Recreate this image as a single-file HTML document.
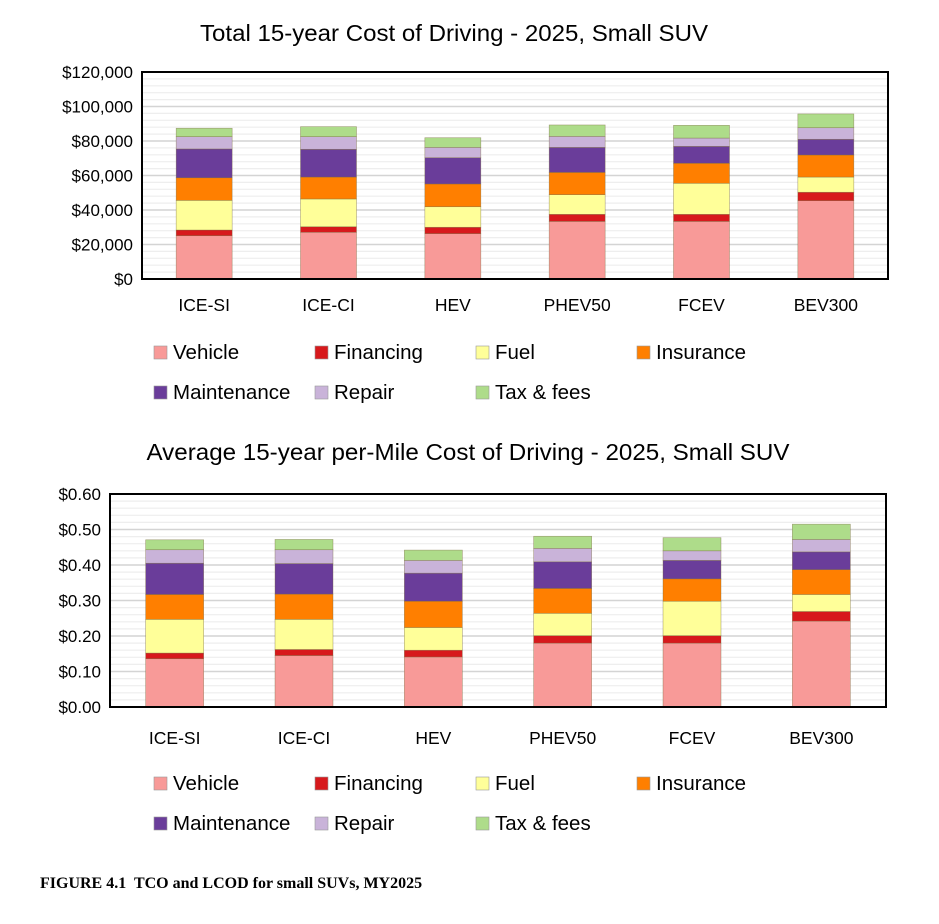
<!DOCTYPE html>
<html><head><meta charset="utf-8">
<style>
html,body{margin:0;padding:0;background:#fff;}
body{width:939px;height:924px;overflow:hidden;position:relative;font-family:"Liberation Sans",sans-serif;}
svg{position:absolute;left:0;top:0;}
</style></head>
<body>
<svg id="fig" width="939" height="924">
<text x="40" y="888" font-family="Liberation Serif, serif" font-weight="bold" font-size="16" fill="#000" xml:space="preserve">FIGURE 4.1  TCO and LCOD for small SUVs, MY2025</text>
</svg>
<script>
const categories = ["ICE-SI","ICE-CI","HEV","PHEV50","FCEV","BEV300"];
const seriesNames = ["Vehicle","Financing","Fuel","Insurance","Maintenance","Repair","Tax & fees"];
const seriesColors = ["#f89a98","#d7191c","#ffff99","#ff7f00","#6a3d9a","#c9b3d9","#aedc8a"];
// Top chart: total cost, thousands of dollars
const tcoVehicle     = [25.1, 27.1, 26.3, 33.4, 33.4, 45.4];
const tcoFinancing   = [3.3, 3.2, 3.7, 4.1, 4.1, 4.9];
const tcoFuel        = [17.2, 16.1, 11.9, 11.4, 18.0, 8.8];
const tcoInsurance   = [13.1, 12.7, 13.2, 12.9, 11.6, 12.8];
const tcoMaintenance = [16.7, 16.1, 15.2, 14.5, 9.8, 9.1];
const tcoRepair      = [7.1, 7.3, 6.0, 6.4, 4.8, 6.7];
const tcoTax         = [4.9, 5.8, 5.6, 6.6, 7.4, 8.0];
const tcoTicks = ["$0","$20,000","$40,000","$60,000","$80,000","$100,000","$120,000"];
// Bottom chart: per-mile cost, dollars
const lcodVehicle     = [0.136, 0.145, 0.141, 0.180, 0.180, 0.242];
const lcodFinancing   = [0.016, 0.017, 0.019, 0.021, 0.021, 0.027];
const lcodFuel        = [0.095, 0.085, 0.064, 0.063, 0.097, 0.048];
const lcodInsurance   = [0.070, 0.071, 0.074, 0.070, 0.063, 0.070];
const lcodMaintenance = [0.088, 0.086, 0.079, 0.075, 0.052, 0.050];
const lcodRepair      = [0.038, 0.039, 0.036, 0.038, 0.027, 0.035];
const lcodTax         = [0.028, 0.029, 0.029, 0.034, 0.037, 0.043];
const lcodTicks = ["$0.00","$0.10","$0.20","$0.30","$0.40","$0.50","$0.60"];

const NS = "http://www.w3.org/2000/svg";
const svg = document.getElementById("fig");
function mk(tag, attrs, parent){
  const e = document.createElementNS(NS, tag);
  for (const k in attrs) e.setAttribute(k, attrs[k]);
  (parent||svg).appendChild(e);
  return e;
}
function drawChart(cfg){
  const g = mk("g", {});
  
  
  const {left,right,top,bottom,max,ticks,series} = cfg;
  const yScale = v => bottom - (v/max)*(bottom-top);
  const band = (right-left)/categories.length;
  const xCenter = i => left + band*(i+0.5);
  const t = mk("text", {x:cfg.titleX, y:cfg.titleY, "text-anchor":"middle", "font-size":"23", fill:"#000", textLength:cfg.titleW, lengthAdjust:"spacingAndGlyphs"}, g);
  t.textContent = cfg.title;
  
  
  const nt = ticks.length-1;
  for (let i=0;i<nt;i++){
    for (let j=1;j<5;j++){
      const v = (i + j/5)*max/nt;
      mk("line",{x1:left,x2:right,y1:yScale(v),y2:yScale(v),stroke:"#eeeeee","stroke-width":"1.2"},g);
    }
  }
  ticks.forEach((lab,i)=>{
    const v = i*max/nt, y = yScale(v);
    const gl = mk("line",{x1:left,x2:right,y1:y,y2:y,stroke:"#d4d4d4","stroke-width":"1.5"},g);
    
    
    const tx = mk("text",{x:left-9,y:y+6,"text-anchor":"end","font-size":"17",fill:"#000"},g);
    tx.textContent = lab;
    
    
  });
  categories.forEach((c,i)=>{
    let acc = 0;
    series.forEach((arr,s)=>{
      const v = arr[i];
      const y1 = yScale(acc+v), y0 = yScale(acc);
      const r = mk("rect",{x:xCenter(i)-cfg.barW/2,y:y1,width:cfg.barW,height:y0-y1,fill:seriesColors[s],stroke:"#7a6a40","stroke-width":"0.6","stroke-opacity":"0.6"},g);
      
      
      acc += v;
    });
    const lx = mk("text",{x:xCenter(i),y:cfg.catY,"text-anchor":"middle","font-size":"17.5",fill:"#000"},g);
    lx.textContent = c;
    
    
  });
  const fr = mk("rect",{x:left,y:top,width:right-left,height:bottom-top,fill:"none",stroke:"#000","stroke-width":"2"},g);
  
  
  const cols = [154,315,476,637];
  seriesNames.forEach((n,s)=>{
    const row = s<4?0:1, col = s<4?s:s-4;
    const y = cfg.legY + row*40;
    const lg = mk("g",{},g);
    
    
    mk("rect",{x:cols[col],y:y-13,width:13,height:13,fill:seriesColors[s],stroke:"#999","stroke-width":"0.6"},lg);
    const lt = mk("text",{x:cols[col]+19,y:y,"font-size":"20.5",fill:"#000"},lg);
    lt.textContent = n;
  });
}
drawChart({name:"tco-chart",title:"Total 15-year Cost of Driving - 2025, Small SUV",titleY:41,titleX:454,titleW:508,
  left:142,right:888,top:72,bottom:279,max:120,ticks:tcoTicks,barW:56,catY:311,legY:359,
  series:[tcoVehicle,tcoFinancing,tcoFuel,tcoInsurance,tcoMaintenance,tcoRepair,tcoTax]});
drawChart({name:"lcod-chart",title:"Average 15-year per-Mile Cost of Driving - 2025, Small SUV",titleY:460,titleX:468,titleW:643,
  left:110,right:886,top:494,bottom:707,max:0.6,ticks:lcodTicks,barW:58,catY:744,legY:790,
  series:[lcodVehicle,lcodFinancing,lcodFuel,lcodInsurance,lcodMaintenance,lcodRepair,lcodTax]});
</script>
</body></html>
